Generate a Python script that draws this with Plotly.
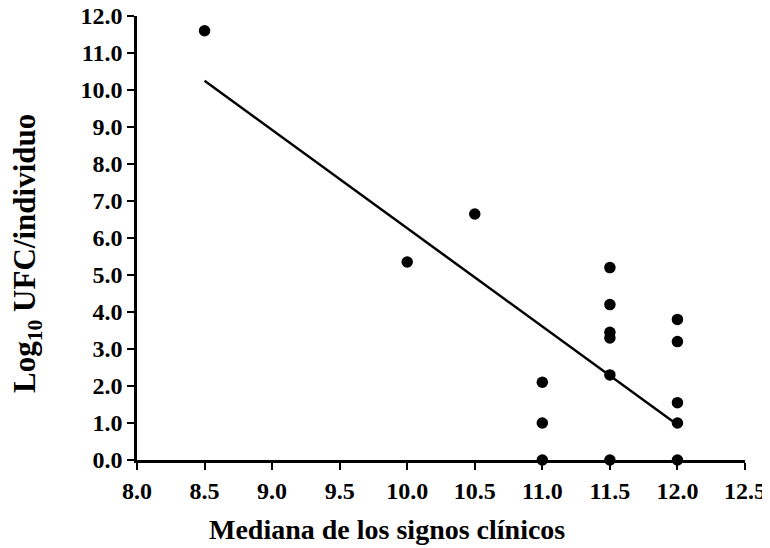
import plotly.graph_objects as go

# Data
x_vals = [8.5, 10.0, 10.5, 11.0, 11.0, 11.0, 11.5, 11.5, 11.5, 11.5, 11.5, 11.5, 12.0, 12.0, 12.0, 12.0, 12.0]
y_vals = [11.6, 5.35, 6.65, 2.1, 1.0, 0.0, 5.2, 4.2, 3.45, 3.3, 2.3, 0.0, 3.8, 3.2, 1.55, 1.0, 0.0]

fit_x = [8.5, 12.0]
fit_y = [10.25, 0.95]

x_ticks = [8.0, 8.5, 9.0, 9.5, 10.0, 10.5, 11.0, 11.5, 12.0, 12.5]
y_ticks = [0, 1, 2, 3, 4, 5, 6, 7, 8, 9, 10, 11, 12]

FONT = "Liberation Serif, Times New Roman, serif"

fig = go.Figure()
fig.add_trace(go.Scatter(x=fit_x, y=fit_y, mode="lines",
                         line=dict(color="black", width=2.5), showlegend=False))
fig.add_trace(go.Scatter(x=x_vals, y=y_vals, mode="markers",
                         marker=dict(color="black", size=11.5), cliponaxis=False,
                         showlegend=False))

OFF = 8  # page body margin
W, H = 770 - OFF, 548 - OFF
L, T = 137 - OFF, 16 - OFF
PW, PH = 608, 444
R = W - L - PW
B = H - T - PH

fig.update_layout(
    width=W, height=H,
    margin=dict(l=L, r=R, t=T, b=B, autoexpand=False),
    plot_bgcolor="white", paper_bgcolor="white",
    font=dict(family=FONT, color="black", size=24),
    xaxis=dict(range=[8.0, 12.5], tickvals=x_ticks,
               ticktext=[f"<b>{v:.1f}</b>" for v in x_ticks],
               showgrid=False, zeroline=False, showline=True, automargin=False,
               ticklabeloverflow="allow",
               linecolor="black", linewidth=2.5,
               ticks="outside", ticklen=7, tickwidth=2, tickcolor="black",
               tickfont=dict(family=FONT, size=24, color="black")),
    yaxis=dict(range=[0, 12], tickvals=y_ticks,
               ticktext=[f"<b>{v:.1f}</b>" for v in y_ticks],
               showgrid=False, zeroline=False, showline=True, automargin=False,
               ticklabeloverflow="allow",
               linecolor="black", linewidth=2.5,
               ticks="outside", ticklen=7, tickwidth=2, tickcolor="black",
               tickfont=dict(family=FONT, size=24, color="black")),
)

def px_x(px):
    return (px - OFF - L) / PW

def px_y(py):
    return (H - B - (py - OFF)) / PH

fig.add_annotation(text="<b>Mediana de los signos clínicos</b>", xref="paper", yref="paper",
                   x=px_x(387), y=px_y(529), showarrow=False,
                   xanchor="center", yanchor="middle",
                   font=dict(family=FONT, size=28, color="black"))
fig.add_annotation(text="<b>Log<sub>10</sub> UFC/individuo</b>", xref="paper", yref="paper",
                   x=px_x(27), y=px_y(254), showarrow=False,
                   textangle=-90, xanchor="center", yanchor="middle",
                   font=dict(family=FONT, size=31, color="black"))

fig.write_html("out.html")
